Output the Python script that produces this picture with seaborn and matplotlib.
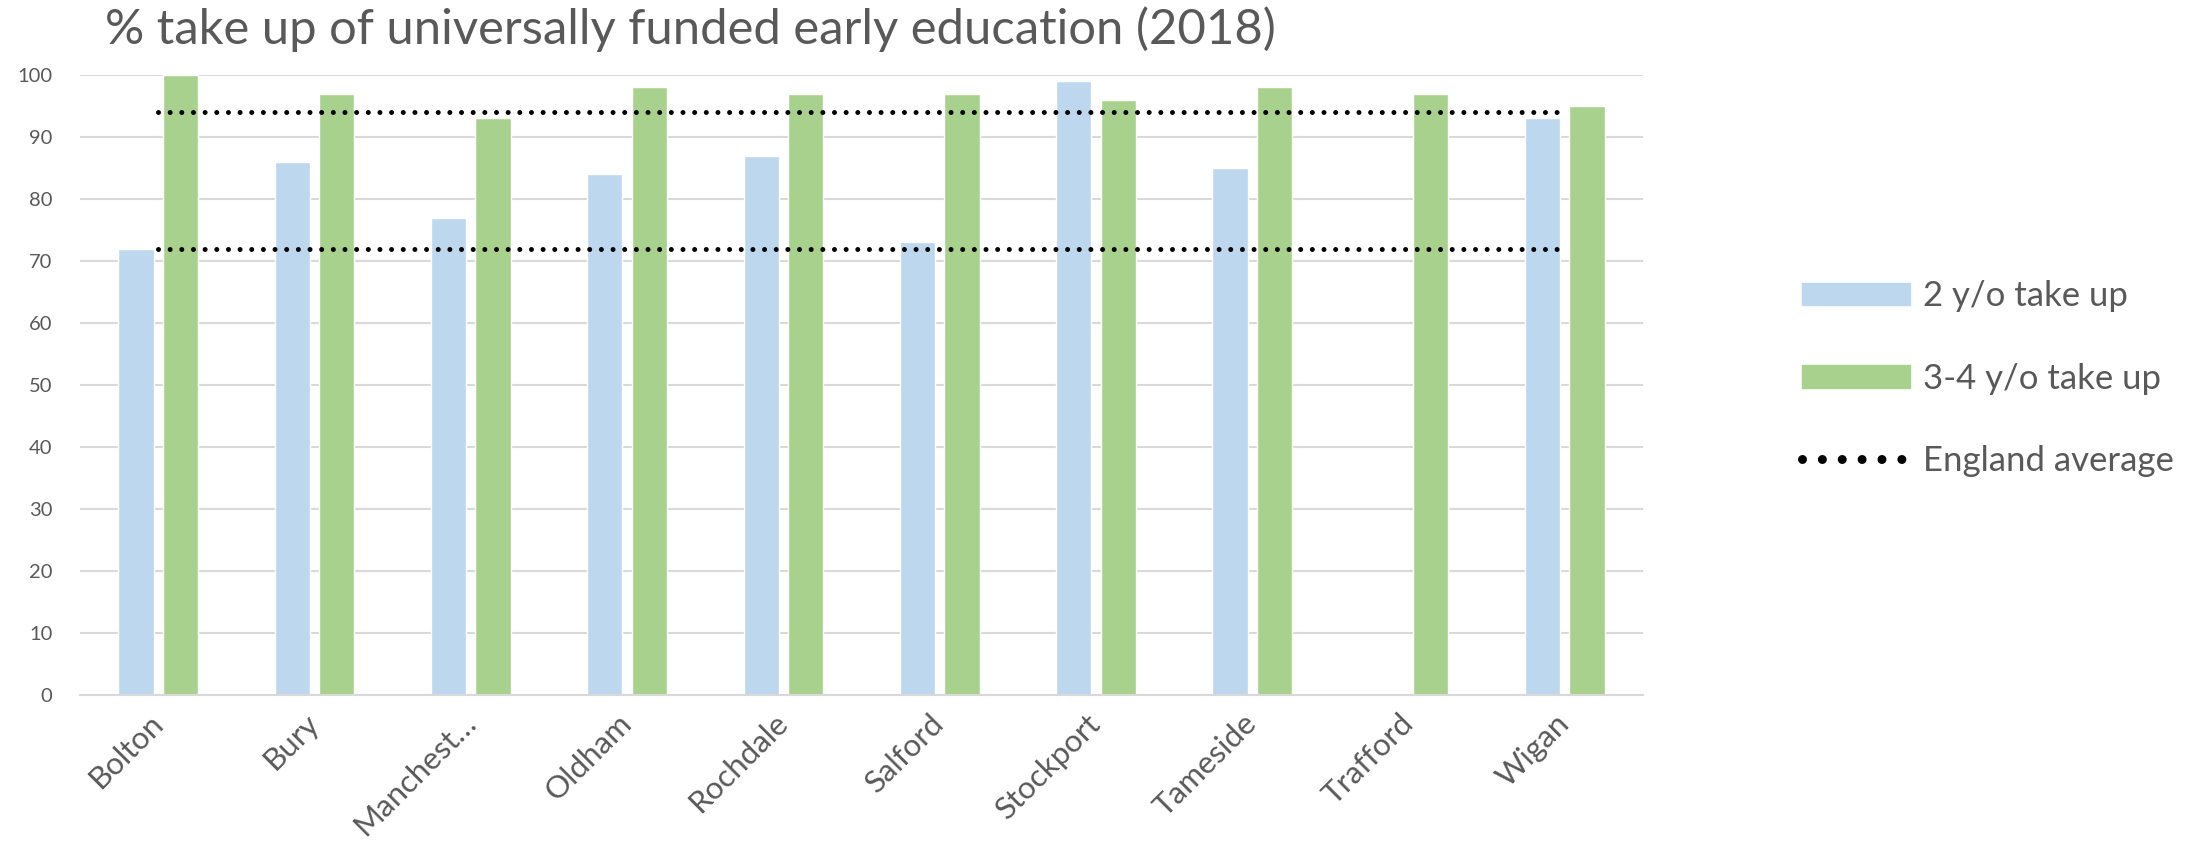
import numpy as np
import pandas as pd
import seaborn as sns
import matplotlib.pyplot as plt
from matplotlib.patches import Patch
from matplotlib.lines import Line2D

# data
areas = ["Bolton", "Bury", "Manchest…", "Oldham", "Rochdale", "Salford",
         "Stockport", "Tameside", "Trafford", "Wigan"]
two_yo = [72, 86, 77, 84, 87, 73, 99, 85, np.nan, 93]
three_four_yo = [100, 97, 93, 98, 97, 97, 96, 98, 97, 95]
series_names = ["2 y/o take up", "3-4 y/o take up"]
england_avg = [72, 94]
yticks = list(range(0, 101, 10))

colors = ["#BDD7EE", "#A9D18E"]
grey = "#595959"

df = pd.DataFrame({
    "Area": areas * 2,
    "Series": [series_names[0]] * len(areas) + [series_names[1]] * len(areas),
    "Value": two_yo + three_four_yo,
})

sns.set_style("white")
plt.rcParams["font.family"] = ["Lato", "DejaVu Sans"]

fig = plt.figure(figsize=(22, 8.47), dpi=100)
ax = fig.add_axes([0.0364, 0.1795, 0.7104, 0.732])

sns.barplot(data=df, x="Area", y="Value", hue="Series", order=areas,
            hue_order=series_names, palette=colors, width=0.57, gap=0.21,
            saturation=1, ax=ax, legend=False)

# England average dotted lines, from first to last category centre
xs = np.arange(len(areas))
for avg in england_avg:
    ax.plot(xs, [avg] * len(areas), color="black", lw=3.6,
            linestyle=(0, (0.001, 2.33)), dash_capstyle="round", zorder=3)

ax.set_ylim(0, 100)
ax.set_xlim(-0.5, len(areas) - 0.5)
ax.set_yticks(yticks)
ax.yaxis.grid(True, color="#D9D9D9", lw=1.5)
ax.set_axisbelow(True)
for s in ["left", "right", "top"]:
    ax.spines[s].set_visible(False)
ax.spines["bottom"].set_color("#D9D9D9")
ax.spines["bottom"].set_linewidth(1.5)

ax.set_xlabel("")
ax.set_ylabel("")
ax.tick_params(axis="y", length=0, pad=20, labelsize=14.5, labelcolor=grey)
ax.tick_params(axis="x", length=0, pad=17, labelsize=22.5, labelcolor=grey)
ax.set_xticks(xs)
ax.set_xticklabels(areas, rotation=45, ha="right", va="center",
                   rotation_mode="anchor")

fig.text(0.0477, 0.948, "% take up of universally funded early education (2018)",
         fontsize=35.3, color=grey, va="baseline")

handles = [Patch(color=colors[0]), Patch(color=colors[1]),
           Line2D([], [], color="black", lw=6.5, linestyle=(0, (0.001, 2.2)),
                  dash_capstyle="round")]
labels = series_names + ["England average"]
leg = fig.legend(handles, labels, loc="center left",
                 bbox_to_anchor=(0.805, 0.553), frameon=False, fontsize=25,
                 handlelength=3.1, handleheight=0.63, labelspacing=1.45,
                 handletextpad=0.37)
for t in leg.get_texts():
    t.set_color(grey)

plt.savefig("out.png", dpi=100)
